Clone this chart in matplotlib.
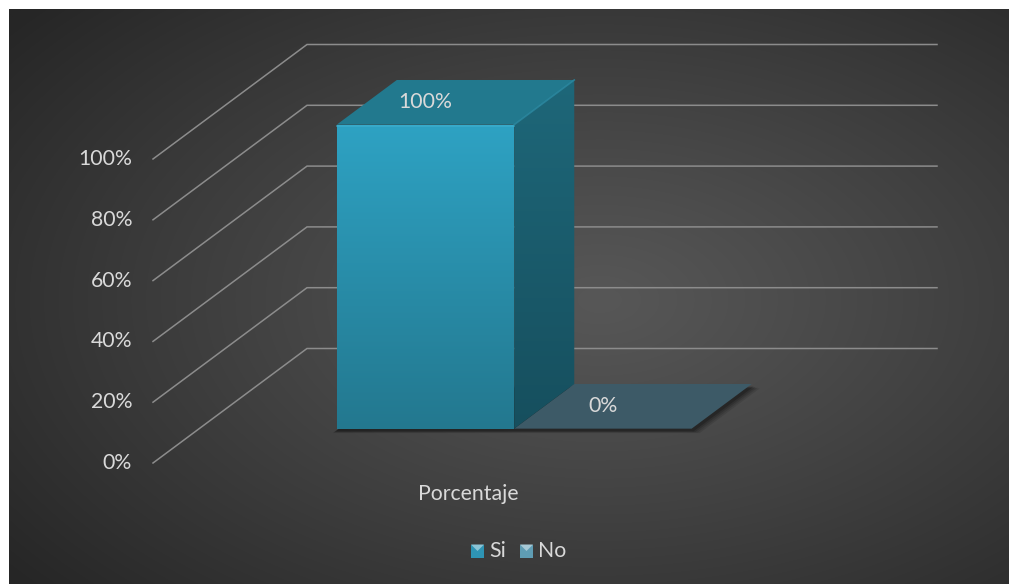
import numpy as np
import matplotlib
matplotlib.use("Agg")
import matplotlib.pyplot as plt
from matplotlib.patches import Polygon, Rectangle
from matplotlib.colors import to_rgb

# ---- data ----
category = "Porcentaje"
series_names = ["Si", "No"]
series_values = [100, 0]
value_labels = ["100%", "0%"]
tick_values = [0, 20, 40, 60, 80, 100]
tick_labels = ["0%", "20%", "40%", "60%", "80%", "100%"]

# ---- oblique 3-D projection used for the column chart ----
W, H = 1009, 584
ORIGIN = (153.0, 463.0)      # front-left floor corner (value 0)
PLOT_W = 630.0               # width of the category axis
PX_PER_UNIT = 3.04           # vertical pixels per percentage point
DEPTH_VEC = (154.0, -114.5)  # screen offset of the back wall
GAP = 1.55                   # gap width (x bar width)
D_FRONT, D_BACK = 0.30, 0.69 # depth range occupied by the columns


def proj(x, v, d):
    return (ORIGIN[0] + x + d * DEPTH_VEC[0],
            ORIGIN[1] - v * PX_PER_UNIT + d * DEPTH_VEC[1])


TEXT = "#d9d9d9"
FONT = "Lato"
FS = 15.3

fig = plt.figure(figsize=(W / 100, H / 100), dpi=100, facecolor="white")
ax = fig.add_axes([0, 0, 1, 1])
ax.set_xlim(0, W)
ax.set_ylim(H, 0)
ax.set_autoscale_on(False)
ax.axis("off")

# ---- chart area background: radial gradient ----
bx0, by0 = 9, 9
ax.add_patch(Rectangle((bx0, by0), W + 20, H + 20, facecolor="#262626",
                       edgecolor="none", zorder=0))
gx = np.linspace(bx0, W + 20, 520)
gy = np.linspace(by0, H + 20, 310)
XX, YY = np.meshgrid(gx, gy)
cx, cy = 600, 300
r = np.sqrt(((XX - cx) / 560) ** 2 + ((YY - cy) / 330) ** 2)
t = np.clip(r / 1.35, 0, 1) ** 1.1
c_in = np.array(to_rgb("#575757"))
c_out = np.array(to_rgb("#262626"))
img = c_in[None, None, :] * (1 - t[..., None]) + c_out[None, None, :] * t[..., None]
ax.imshow(img, extent=(bx0, W + 20, H + 20, by0), origin="upper",
          interpolation="bilinear", zorder=0.5, aspect="auto")

# ---- gridlines: side wall diagonals and back wall horizontals ----
GRID = "#8c8c8c"
for tv in tick_values:
    p0 = proj(0, tv, 0)
    p1 = proj(0, tv, 1)
    p2 = proj(PLOT_W, tv, 1)
    ax.plot([p0[0], p1[0], p2[0]], [p0[1], p1[1], p2[1]], color=GRID, lw=1.1,
            solid_joinstyle="miter", zorder=1)

# ---- value axis labels ----
for tv, tl in zip(tick_values, tick_labels):
    px, py = proj(0, tv, 0)
    ax.text(px - 21, py, tl, ha="right", va="center", color=TEXT,
            fontsize=FS, family=FONT, zorder=5)

# ---- columns ----
n = len(series_values)
bar_w = PLOT_W / (n + GAP)


def gradient_poly(pts, top_col, bot_col, z):
    poly = Polygon(pts, closed=True, facecolor="none", edgecolor="none", zorder=z)
    ax.add_patch(poly)
    xs = [p[0] for p in pts]
    ys = [p[1] for p in pts]
    g = np.linspace(0, 1, 256)[:, None, None]
    a = np.array(to_rgb(top_col))[None, None, :]
    b = np.array(to_rgb(bot_col))[None, None, :]
    grad = a * (1 - g) + b * g
    grad = np.repeat(grad, 2, axis=1)
    im = ax.imshow(grad, extent=(min(xs), max(xs), max(ys), min(ys)), origin="upper",
                   aspect="auto", interpolation="bilinear", zorder=z)
    im.set_clip_path(poly)


# soft shadow under the column footprint
x_first = GAP / 2 * bar_w
x_last = x_first + n * bar_w
for k, a in enumerate([0.10, 0.12, 0.15, 0.2]):
    grow = 4 - k
    f = [proj(x_first - grow, 0, D_FRONT), proj(x_last + grow * 2, 0, D_FRONT),
         proj(x_last + grow * 2, 0, D_BACK), proj(x_first - grow, 0, D_BACK)]
    f = [(px, py + 2 + grow * 0.6) for px, py in f]
    ax.add_patch(Polygon(f, closed=True, facecolor="black", edgecolor="none",
                         alpha=a, zorder=2))

for i in reversed(range(n)):
    v = series_values[i]
    x0 = x_first + i * bar_w
    x1 = x0 + bar_w
    if v <= 0:
        top = [proj(x0, 0, D_FRONT), proj(x1, 0, D_FRONT),
               proj(x1, 0, D_BACK), proj(x0, 0, D_BACK)]
        ax.add_patch(Polygon(top, closed=True, facecolor="#3d5a67",
                             edgecolor="none", zorder=3))
    else:
        front = [proj(x0, 0, D_FRONT), proj(x1, 0, D_FRONT),
                 proj(x1, v, D_FRONT), proj(x0, v, D_FRONT)]
        side = [proj(x1, 0, D_FRONT), proj(x1, 0, D_BACK),
                proj(x1, v, D_BACK), proj(x1, v, D_FRONT)]
        top = [proj(x0, v, D_FRONT), proj(x1, v, D_FRONT),
               proj(x1, v, D_BACK), proj(x0, v, D_BACK)]
        gradient_poly(front, "#2ea2c3", "#23788f", 3)
        gradient_poly(side, "#1e6779", "#164f5e", 3)
        ax.add_patch(Polygon(top, closed=True, facecolor="#22798e",
                             edgecolor="none", zorder=3))
        # bevel highlights along the front edges
        a_, b_ = proj(x0, v, D_FRONT), proj(x1, v, D_FRONT)
        ax.plot([a_[0], b_[0]], [a_[1] + 1, b_[1] + 1], color="#3fb0cf",
                lw=1.2, alpha=0.7, zorder=4)
        c_ = proj(x1, v, D_BACK)
        ax.plot([b_[0], c_[0]], [b_[1], c_[1]], color="#2b8aa3", lw=1.2,
                alpha=0.8, zorder=4)

    # data label: front-centre horizontally, mid-depth vertically
    lx = proj((x0 + x1) / 2, v, D_FRONT)[0]
    ly = proj((x0 + x1) / 2, v, (D_FRONT + D_BACK) / 2)[1]
    ax.text(lx, ly, value_labels[i], ha="center", va="center", color=TEXT,
            fontsize=FS, family=FONT, zorder=6)

# ---- category label ----
cxl, cyl = proj(PLOT_W / 2, 0, 0)
ax.text(cxl, cyl + 31, category, ha="center", va="center", color=TEXT,
        fontsize=FS, family=FONT, zorder=5)

# ---- legend ----
legend_cols = ["#2e94b4", "#5f9db4"]
legend_x = [471, 520]
ly0 = 551
for name, col, lxp in zip(series_names, legend_cols, legend_x):
    s = 13
    ax.add_patch(Rectangle((lxp, ly0 - s / 2), s, s, facecolor=col,
                           edgecolor="none", zorder=5))
    hl = np.array(to_rgb(col)) * 0.55 + 0.45
    ax.add_patch(Polygon([(lxp, ly0 - s / 2), (lxp + s, ly0 - s / 2),
                          (lxp + s / 2, ly0)], closed=True,
                         facecolor=hl, edgecolor="none", zorder=6))
    ax.text(lxp + s + 5, ly0, name, ha="left", va="center", color=TEXT,
            fontsize=FS, family=FONT, zorder=5)

ax.set_xlim(0, W)
ax.set_ylim(H, 0)
fig.savefig("out.png", dpi=100, facecolor="white")
